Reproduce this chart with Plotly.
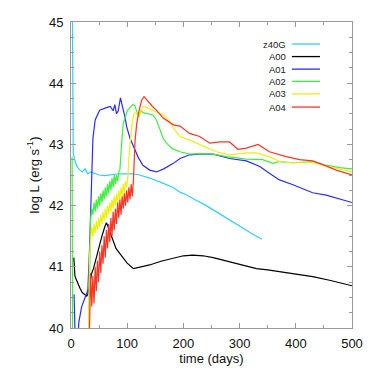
import plotly.graph_objects as go

# light curves: time (days) vs log L (erg/s)
t_z40g = [2, 3.5, 4, 8, 12, 16, 20, 25, 30, 35, 40, 50, 60, 70, 85, 99, 110, 122, 140,
          160, 181, 194, 207, 220, 237, 253, 267, 282, 297, 312, 326, 340]
L_z40g = [46, 43.2, 42.85, 42.7, 42.62, 42.58, 42.55, 42.6, 42.52, 42.55, 42.53, 42.5, 42.49,
          42.5, 42.52, 42.52, 42.52, 42.5, 42.45, 42.38, 42.3, 42.22, 42.17, 42.1, 42.02, 41.93,
          41.85, 41.76, 41.68, 41.6, 41.52, 41.45]

t_a00 = [5, 7, 9, 12, 16, 20, 25, 28, 30, 33, 37, 40, 45, 50, 55, 60, 63, 65, 68, 72, 76, 80,
         90, 100, 111, 125, 140, 160, 182, 200, 217, 235, 253, 270, 288, 310, 330, 350, 371,
         400, 430, 460, 500]
L_a00 = [41.15, 40.85, 40.8, 40.72, 40.65, 40.58, 40.55, 40.52, 40.55, 40.7, 40.9, 40.97,
         41.15, 41.35, 41.5, 41.65, 41.72, 41.68, 41.6, 41.48, 41.38, 41.3, 41.18, 41.06, 40.97,
         41.0, 41.03, 41.09, 41.14, 41.18, 41.19, 41.18, 41.15, 41.11, 41.07, 41.02, 40.97,
         40.95, 40.92, 40.88, 40.84, 40.78, 40.69]

t_a01 = [5.5, 8, 12, 14, 19, 25, 30, 33, 35, 37, 39, 43, 51, 63, 70, 75, 78, 81, 84, 88, 91,
         93, 96, 99, 105, 111, 120, 128, 140, 152, 165, 182, 194, 211, 229, 253, 282, 312, 336,
         353, 371, 395, 419, 430, 454, 475, 500]
L_a01 = [40.55, 39.6, 39.8, 40.1, 40.35, 40.49, 40.62, 41.3, 41.9, 42.6, 43.1, 43.4, 43.56,
         43.6, 43.62, 43.55, 43.65, 43.5, 43.55, 43.76, 43.6, 43.56, 43.45, 43.29, 43.1, 42.96,
         42.78, 42.66, 42.58, 42.55, 42.6, 42.69, 42.77, 42.83, 42.84, 42.84, 42.77, 42.73,
         42.64, 42.53, 42.42, 42.34, 42.25, 42.21, 42.17, 42.12, 42.05]

t_a02 = [2, 3, 31, 33, 35, 37, 39, 41, 43, 45, 47, 49, 51, 53, 55, 57, 59, 61, 63, 65, 67, 69,
         71, 73, 75, 77, 79, 81, 83, 85, 87, 90, 93, 97, 100, 105, 110, 114, 118, 121, 124, 128,
         135, 146, 152, 158, 164, 170, 180, 194, 211, 230, 253, 277, 312, 341, 359, 371, 395,
         430, 454, 478, 500]
L_a02 = [42.8, 39, 39.8, 41.3, 41.8, 41.95, 41.85, 42.05, 41.9, 42.1, 41.95, 42.15, 42.0, 42.2,
         42.05, 42.25, 42.1, 42.3, 42.15, 42.35, 42.2, 42.4, 42.25, 42.45, 42.3, 42.5, 42.35,
         42.5, 42.4, 42.55, 42.58, 43.0, 43.35, 43.45, 43.55, 43.6, 43.65, 43.63, 43.5, 43.45,
         43.55, 43.52, 43.5, 43.48, 43.4, 43.24, 43.1, 43.02, 42.93, 42.88, 42.84, 42.85, 42.84,
         42.8, 42.76, 42.75, 42.69, 42.72, 42.7, 42.72, 42.66, 42.62, 42.6]

t_a03 = [31, 33, 35, 37, 39, 41, 43, 45, 47, 49, 51, 53, 55, 57, 59, 61, 63, 65, 67, 69, 71, 73,
         75, 77, 79, 81, 83, 85, 87, 89, 91, 93, 95, 97, 99, 101, 104, 108, 112, 116, 120, 124,
         128, 135, 146, 155, 164, 176, 186, 194, 211, 223, 235, 259, 282, 300, 312, 330, 353,
         371, 389, 430, 454, 478, 500]
L_a03 = [39.8, 41.2, 41.45, 41.65, 41.5, 41.7, 41.55, 41.75, 41.6, 41.8, 41.65, 41.85, 41.7,
         41.9, 41.75, 41.95, 41.8, 42.0, 41.85, 42.05, 41.9, 42.1, 41.95, 42.15, 42.0, 42.2,
         42.05, 42.25, 42.1, 42.3, 42.15, 42.35, 42.2, 42.4, 42.3, 42.45, 42.9, 43.3, 43.5,
         43.52, 43.45, 43.55, 43.62, 43.6, 43.56, 43.52, 43.48, 43.37, 43.22, 43.13, 43.07,
         43.02, 42.97, 42.88, 42.83, 42.85, 42.86, 42.86, 42.8, 42.72, 42.7, 42.7, 42.65,
         42.59, 42.55]

t_a04 = [32.5, 33.5, 35, 37, 39, 41, 43, 45, 47, 49, 51, 53, 55, 57, 59, 61, 63, 65, 67, 69, 71,
         73, 75, 77, 79, 81, 83, 85, 87, 89, 91, 93, 95, 97, 99, 101, 103, 105, 107, 109, 111,
         114, 117, 121, 126, 130, 137, 145, 152, 164, 182, 194, 211, 229, 247, 265, 282, 297,
         312, 333, 353, 383, 407, 430, 448, 472, 500]
L_a04 = [39.8, 40.5, 40.9, 40.35, 40.85, 40.4, 41.0, 40.6, 41.1, 40.75, 41.25, 40.9, 41.35,
         41.05, 41.5, 41.15, 41.6, 41.3, 41.7, 41.4, 41.8, 41.5, 41.9, 41.6, 41.95, 41.7, 42.05,
         41.8, 42.1, 41.85, 42.15, 41.95, 42.2, 42.0, 42.25, 42.05, 42.3, 42.1, 42.35, 42.15,
         42.4, 43.07, 43.34, 43.55, 43.73, 43.78, 43.7, 43.62, 43.56, 43.43, 43.32, 43.3, 43.18,
         43.13, 43.02, 43.04, 43.04, 42.92, 42.94, 43.0, 42.88, 42.8, 42.75, 42.73, 42.67,
         42.58, 42.5]

SERIES = [
    ("z40G", t_z40g, L_z40g, "#33ccff"),
    ("A00", t_a00, L_a00, "#000000"),
    ("A01", t_a01, L_a01, "#2b2bff"),
    ("A02", t_a02, L_a02, "#3cf03c"),
    ("A03", t_a03, L_a03, "#eeee11"),
    ("A04", t_a04, L_a04, "#ff3322"),
]

FONT = "Liberation Sans, Arial, sans-serif"

fig = go.Figure()
for name, t, L, c in SERIES:
    fig.add_trace(go.Scatter(x=t, y=L, mode="lines", name=name,
                             line=dict(color=c, width=1.2), showlegend=False))

# legend drawn by hand: label on the left, line sample on the right
leg_y = [0.928, 0.887, 0.846, 0.806, 0.765, 0.722]
for (name, _, _, c), yy in zip(SERIES, leg_y):
    fig.add_annotation(x=0.772, y=yy, xref="paper", yref="paper", text=name,
                       showarrow=False, xanchor="right", yanchor="middle",
                       font=dict(size=9.5, color="#222"))
    fig.add_shape(type="line", xref="paper", yref="paper", x0=0.786, x1=0.886,
                  y0=yy, y1=yy, line=dict(color=c, width=1.3))

axis_common = dict(showgrid=False, zeroline=False, showline=True, linecolor="#999",
                   linewidth=1, mirror="ticks", ticks="inside", ticklen=5,
                   tickcolor="#999", tickfont=dict(size=13, color="#111"),
                   automargin=False)
fig.update_xaxes(range=[0, 500], dtick=100, ticklabelstandoff=3,
                 title=dict(text="time (days)", standoff=2,
                            font=dict(size=13, color="#111")),
                 minor=dict(dtick=50, ticks="inside", ticklen=3, tickcolor="#999"),
                 **axis_common)
fig.update_yaxes(range=[40, 45], dtick=1, ticklabelstandoff=4,
                 title=dict(text="log L (erg s<sup>-1</sup>)", standoff=6,
                            font=dict(size=13, color="#111")),
                 minor=dict(dtick=0.25, ticks="inside", ticklen=3, tickcolor="#999"),
                 **axis_common)
# page adds 8px body margin, so offsets are reduced by 8
fig.update_layout(width=374, height=374, margin=dict(l=63, r=30, t=14, b=54),
                  plot_bgcolor="white", paper_bgcolor="white",
                  font=dict(family=FONT), showlegend=False)
fig.write_html("out.html")
